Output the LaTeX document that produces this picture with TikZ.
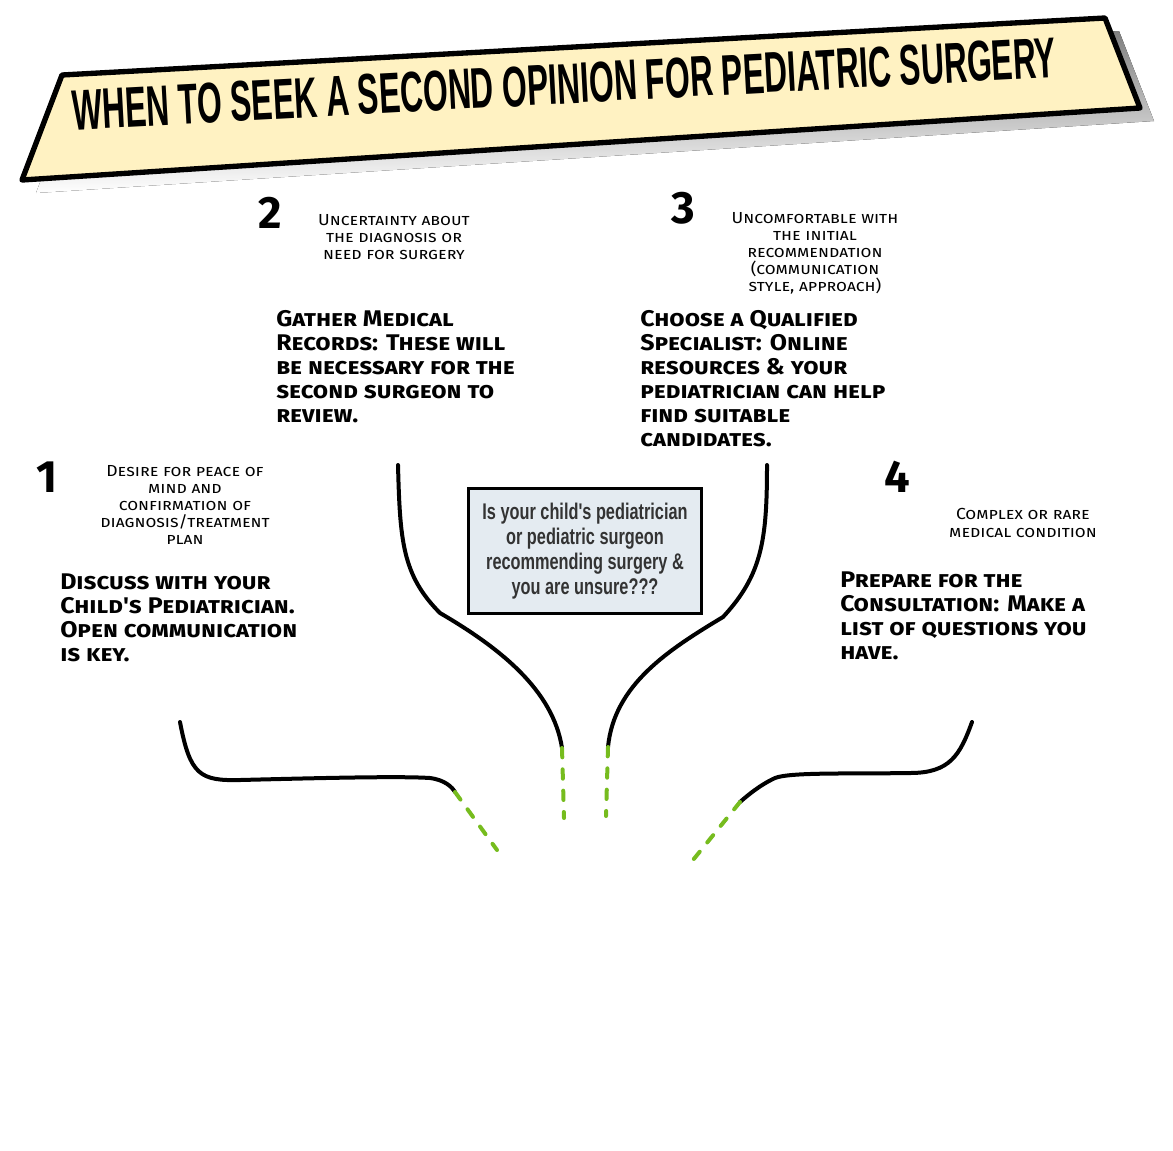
\documentclass[tikz,border=0pt]{standalone}
\usepackage{fontspec}
\usepackage{graphicx}
\usepackage{tikz}
\usetikzlibrary{arrows.meta,positioning,calc}
\setmainfont{Fira Sans}
\newfontfamily\handfont[FakeStretch=1.1]{Fira Sans}
\newfontfamily\titlefont[FakeStretch=0.6]{Liberation Sans}
\newfontfamily\boxfont[FakeStretch=0.72]{Liberation Sans}
\definecolor{banner}{HTML}{FFF2C2}
\definecolor{shade}{HTML}{A7B3C1}
\definecolor{qbox}{HTML}{E4EBF1}
\definecolor{lime}{HTML}{76BC1E}

\begin{document}
\begin{tikzpicture}[x=0.75pt, y=-0.75pt,
  numlbl/.style={font=\fontsize{34}{34}\selectfont\bfseries, inner sep=0pt},
  reason/.style={font=\handfont\fontsize{12}{12.8}\selectfont\scshape, align=center, inner sep=0pt},
  action/.style={font=\handfont\fontsize{17}{18}\selectfont\bfseries\scshape, align=left, inner sep=0pt, anchor=north west},
  link/.style={line width=3pt, line cap=round},
  dashlink/.style={lime, line width=3pt, line cap=round, dash pattern=on 7pt off 9pt}]
\useasboundingbox (0,0) rectangle (1173,1150);

% banner
\fill[shade] (76,88) -- (1119,31) -- (1154,121) -- (36,193) -- cycle;
\draw[fill=banner, line width=4pt, line join=round] (62,75) -- (1105,18) -- (1140,108) -- (22,180) -- cycle;
\node (title) [rotate=3.1, inner sep=0pt] at (564,84)
  {\resizebox{739pt}{30pt}{\titlefont\bfseries WHEN TO SEEK A SECOND OPINION FOR PEDIATRIC SURGERY}};

% numbers
\node (num2) [numlbl] at (270,213) {2};
\node (num3) [numlbl] at (683,208) {3};
\node (num1) [numlbl] at (47,477) {1};
\node (num4) [numlbl] at (897,477) {4};

% reasons
\node (why2) [reason] at (394,237) {Uncertainty about\\the diagnosis or\\need for surgery};
\node (why3) [reason] at (815,253) {Uncomfortable with\\the initial\\recommendation\\(communication\\style, approach)};
\node (why1) [reason] at (185,505) {Desire for peace of\\mind and\\confirmation of\\diagnosis/treatment\\plan};
\node (why4) [reason] at (1023,523) {Complex or rare\\medical condition};

% steps
\node (act2) [action] at (276,310) {Gather Medical\\Records: These will\\be necessary for the\\second surgeon to\\review.};
\node (act3) [action] at (640,310) {Choose a Qualified\\Specialist: Online\\resources \& your\\pediatrician can help\\find suitable\\candidates.};
\node (act1) [action] at (60,574) {Discuss with your\\Child's Pediatrician.\\Open communication\\is key.};
\node (act4) [action] at (840,572) {Prepare for the\\Consultation: Make a\\list of questions you\\have.};

% question
\node (question) [draw, line width=1.8pt, fill=qbox, minimum width=175pt, minimum height=94pt,
  align=center, text=black!80, font=\boxfont\bfseries\fontsize{17}{18.8}\selectfont] at (585,551)
  {Is your child's pediatrician\\or pediatric surgeon\\recommending surgery \&\\you are unsure???};

% connectors
\coordinate (l2top) at (398,465);
\coordinate (l2mid) at (562,748);
\coordinate (l2end) at (564,818);
\coordinate (l3top) at (767,465);
\coordinate (l3mid) at (608,747);
\coordinate (l3end) at (606,816);
\coordinate (l1top) at (180,722);
\coordinate (l1mid) at (455,792);
\coordinate (l1end) at (497,850);
\coordinate (l4top) at (972,722);
\coordinate (l4mid) at (740,802);
\coordinate (l4end) at (693,860);

\draw[link] (l2top) .. controls (400,540) and (402,575) .. (440,613)
  .. controls (500,648) and (553,690) .. (l2mid);
\draw[link] (l3top) .. controls (767,540) and (762,575) .. (723,617)
  .. controls (668,650) and (614,685) .. (l3mid);
\draw[link] (l1top) .. controls (190,775) and (200,781) .. (240,780)
  .. controls (320,778) and (400,776) .. (430,778)
  .. controls (445,780) and (452,787) .. (l1mid);
\draw[link] (l4top) .. controls (960,755) and (950,773) .. (910,773)
  .. controls (850,774) and (790,772) .. (775,778)
  .. controls (760,785) and (748,795) .. (l4mid);

\draw[dashlink] (l2mid) -- (l2end);
\draw[dashlink] (l3mid) -- (l3end);
\draw[dashlink] (l1mid) -- (l1end);
\draw[dashlink] (l4mid) -- (l4end);

\end{tikzpicture}
\end{document}
